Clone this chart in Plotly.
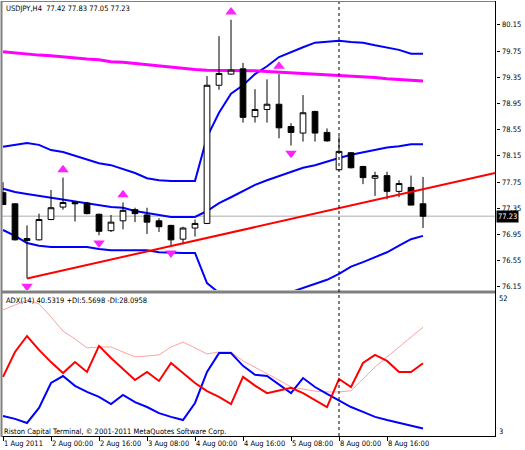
import plotly.graph_objects as go

# ---------------- data ----------------
bars = list(range(36))
open_ = [77.59, 77.42, 76.86, 76.87, 77.18, 77.37, 77.44, 77.43, 77.26, 77.01, 77.16, 77.33,
         77.25, 77.16, 77.09, 76.88, 77.05, 77.12, 79.23, 79.40, 79.48, 78.75, 78.86, 78.94,
         78.60, 78.50, 78.83, 78.51, 77.94, 78.20, 77.99, 77.81, 77.85, 77.61, 77.67, 77.42]
high = [77.75, 77.43, 77.09, 77.27, 77.63, 77.82, 77.45, 77.45, 77.27, 77.25, 77.44, 77.36,
        77.36, 77.20, 77.10, 77.07, 77.18, 79.37, 79.98, 80.23, 79.57, 79.17, 79.32, 79.40,
        78.65, 79.08, 78.84, 78.57, 78.45, 78.21, 78.00, 77.91, 77.91, 77.78, 77.85, 77.83]
low = [77.40, 76.86, 76.28, 76.86, 77.17, 77.33, 77.15, 77.26, 76.94, 76.99, 77.03, 77.14,
       76.96, 76.99, 76.79, 76.80, 76.92, 77.11, 79.16, 79.39, 78.66, 78.66, 78.66, 78.42,
       78.31, 78.37, 78.37, 78.37, 77.93, 77.96, 77.72, 77.54, 77.49, 77.52, 77.40, 77.05]
close = [77.41, 76.87, 76.89, 77.18, 77.36, 77.44, 77.42, 77.27, 77.00, 77.14, 77.32, 77.27,
         77.14, 77.07, 76.87, 77.05, 77.12, 79.23, 79.41, 79.46, 78.74, 78.86, 78.94, 78.58,
         78.51, 78.81, 78.50, 78.38, 78.22, 77.97, 77.82, 77.85, 77.61, 77.73, 77.40, 77.23]

bb_upper = [78.29, 78.32, 78.35, 78.32, 78.24, 78.21, 78.15, 78.09, 78.04, 78.01, 77.95, 77.89,
            77.81, 77.78, 77.77, 77.77, 77.77, 78.44, 78.81, 79.10, 79.23, 79.40, 79.52, 79.66,
            79.74, 79.81, 79.88, 79.89, 79.91, 79.89, 79.88, 79.84, 79.81, 79.77, 79.71, 79.71]
bb_middle = [77.65, 77.60, 77.57, 77.54, 77.52, 77.49, 77.46, 77.43, 77.40, 77.37, 77.36, 77.31,
             77.28, 77.25, 77.22, 77.22, 77.22, 77.31, 77.43, 77.52, 77.62, 77.71, 77.78, 77.84,
             77.91, 77.97, 78.01, 78.07, 78.12, 78.17, 78.21, 78.25, 78.28, 78.30, 78.33, 78.33]
bb_lower = [77.02, 76.93, 76.82, 76.78, 76.76, 76.76, 76.76, 76.76, 76.73, 76.71, 76.71, 76.71,
            76.71, 76.68, 76.67, 76.67, 76.67, 76.21, 76.06, 75.95, 76.00, 76.01, 76.03, 76.01,
            76.07, 76.13, 76.20, 76.26, 76.35, 76.46, 76.53, 76.61, 76.68, 76.78, 76.88, 76.93]
ma_magenta = [79.74, 79.72, 79.71, 79.69, 79.68, 79.66, 79.65, 79.63, 79.62, 79.59, 79.58, 79.56,
              79.55, 79.52, 79.51, 79.49, 79.47, 79.46, 79.46, 79.455, 79.455, 79.45, 79.44, 79.43,
              79.425, 79.42, 79.41, 79.39, 79.385, 79.37, 79.36, 79.35, 79.33, 79.32, 79.30, 79.295]

adx = [46.5, 48.2, 49.9, 48.6, 44.1, 39.2, 36.5, 33.4, 33.7, 33.7, 32.0, 30.3,
       30.6, 31.0, 33.7, 35.4, 33.4, 31.3, 32.0, 32.0, 28.9, 26.7, 24.7, 22.3,
       19.9, 19.2, 18.5, 18.2, 18.2, 18.6, 22.7, 26.8, 30.3, 33.7, 36.8, 40.53]
plus_di = [9.9, 8.9, 7.5, 12.7, 21.3, 23.7, 20.3, 18.2, 16.5, 14.0, 17.2, 14.7,
           13.0, 10.9, 9.6, 8.5, 14.4, 25.1, 31.6, 31.6, 27.2, 24.1, 23.7, 20.6,
           17.8, 23.0, 19.9, 17.5, 15.1, 13.0, 11.3, 9.6, 8.5, 7.5, 6.5, 5.57]
minus_di = [23.4, 32.0, 37.5, 32.7, 28.5, 24.7, 28.5, 25.1, 34.1, 29.9, 26.1, 22.3,
            25.1, 22.0, 28.2, 24.7, 21.3, 18.5, 16.5, 14.0, 23.4, 20.4, 17.8, 18.7,
            19.6, 17.8, 15.4, 13.0, 22.7, 19.9, 28.2, 31.0, 28.9, 25.1, 25.1, 28.10]

fractal_up = [5, 10, 19, 23]
fractal_down = [2, 8, 14, 24]
trend_x = [2, 41]
trend_price = [76.28, 77.89]
price_ticks = [80.15, 79.75, 79.35, 78.95, 78.55, 78.15, 77.75, 77.35, 76.95, 76.55, 76.15]
time_tick_bars = [0, 4, 8, 12, 16, 20, 24, 28, 32]
time_tick_labels = ["1 Aug 2011", "2 Aug 00:00", "2 Aug 16:00", "3 Aug 08:00", "4 Aug 00:00",
                    "4 Aug 16:00", "5 Aug 08:00", "8 Aug 00:00", "8 Aug 16:00"]
week_separator_bar = 28
adx_label = "ADX(14) 40.5319 +DI:5.5698 -DI:28.0958"
sub_scale = [52, 3]

# ---------------- layout helpers ----------------
W, H = 525, 450
def fx(p):
    return p / W
def fy(p):
    return 1 - p / H

FONT = "Liberation Sans Narrow, DejaVu Sans Condensed, Liberation Sans, Arial, sans-serif"
FS = 7.5
X_DOM = [fx(2), fx(495.5)]
Y_MAIN = [fy(290), fy(2)]
Y_SUB = [fy(436), fy(294)]
Y_RANGE = [76.104, 80.501]
X_RANGE = [-0.083, 41.04]
ARROW_GAP = 0.12
ARROW_COLOR = "#ff22ff"

fig = go.Figure()

# indicators (base layer)
for band in (bb_upper, bb_middle, bb_lower):
    fig.add_trace(go.Scatter(x=bars, y=band, mode="lines", line=dict(color="#0000ff", width=2),
                             xaxis="x", yaxis="y", hoverinfo="skip"))
fig.add_trace(go.Scatter(x=bars, y=ma_magenta, mode="lines", line=dict(color="#ff00ff", width=3),
                         xaxis="x", yaxis="y", hoverinfo="skip"))

# candles on overlay so they sit above indicator lines
fig.add_trace(go.Candlestick(
    x=bars, open=open_, high=high, low=low, close=close, xaxis="x", yaxis="y3",
    increasing=dict(line=dict(color="black", width=1), fillcolor="white"),
    decreasing=dict(line=dict(color="black", width=1), fillcolor="black"),
    whiskerwidth=0, hoverinfo="skip"))
fig.add_trace(go.Scatter(x=trend_x, y=trend_price, mode="lines", line=dict(color="#ff0000", width=2),
                         xaxis="x", yaxis="y3", hoverinfo="skip"))
fig.add_trace(go.Scatter(x=fractal_up, y=[high[i] + ARROW_GAP for i in fractal_up], mode="markers",
                         marker=dict(symbol="triangle-up", size=10, color=ARROW_COLOR,
                                     line=dict(width=0)),
                         xaxis="x", yaxis="y3", hoverinfo="skip"))
fig.add_trace(go.Scatter(x=fractal_down, y=[low[i] - ARROW_GAP for i in fractal_down], mode="markers",
                         marker=dict(symbol="triangle-down", size=10, color=ARROW_COLOR,
                                     line=dict(width=0)),
                         xaxis="x", yaxis="y3", hoverinfo="skip"))

# ADX sub window
fig.add_trace(go.Scatter(x=bars, y=adx, mode="lines", line=dict(color="#ffa0a0", width=1),
                         xaxis="x2", yaxis="y2", hoverinfo="skip"))
fig.add_trace(go.Scatter(x=bars, y=plus_di, mode="lines", line=dict(color="#0000ff", width=2),
                         xaxis="x2", yaxis="y2", hoverinfo="skip"))
fig.add_trace(go.Scatter(x=bars, y=minus_di, mode="lines", line=dict(color="#ff0000", width=2),
                         xaxis="x2", yaxis="y2", hoverinfo="skip"))

tickfont = dict(family=FONT, size=FS, color="black")
fig.update_layout(
    width=W, height=H, margin=dict(l=0, r=0, t=0, b=0),
    paper_bgcolor="white", plot_bgcolor="white", showlegend=False, hovermode=False,
    boxgap=0.32,
    font=dict(family=FONT, size=FS, color="black"),
    xaxis=dict(domain=X_DOM, range=X_RANGE, anchor="y", showticklabels=False, showgrid=False,
               zeroline=False, showline=False, ticks="", rangeslider=dict(visible=False)),
    xaxis2=dict(domain=X_DOM, matches="x", anchor="y2", showgrid=False, zeroline=False,
                showline=True, linecolor="black", linewidth=1, ticks="outside", ticklen=4,
                tickcolor="black", tickvals=time_tick_bars, ticktext=time_tick_labels,
                ticklabelposition="outside right", tickangle=0, tickfont=tickfont),
    yaxis=dict(domain=Y_MAIN, range=Y_RANGE, anchor="x", side="right", showgrid=False,
               zeroline=False, showline=False, ticks="outside", ticklen=3, tickcolor="black",
               tickvals=price_ticks, showticklabels=False),
    yaxis3=dict(overlaying="y", range=Y_RANGE, anchor="x", visible=False),
    yaxis2=dict(domain=Y_SUB, range=[sub_scale[1], sub_scale[0]], anchor="x2", side="right",
                showgrid=False, zeroline=False, showline=False, showticklabels=False, ticks=""),
)

shapes = [
    # bid line
    dict(type="line", xref="paper", yref="y", x0=X_DOM[0], x1=X_DOM[1], y0=close[-1], y1=close[-1],
         line=dict(color="#c8c8c8", width=1.5), layer="below"),
    # pane separator
    dict(type="rect", xref="paper", yref="paper", x0=X_DOM[0], x1=X_DOM[1], y0=fy(293.5), y1=fy(290.5),
         fillcolor="#808080", line=dict(width=0)),
    # frame
    dict(type="line", xref="paper", yref="paper", x0=fx(1.5), x1=fx(1.5), y0=fy(437), y1=fy(1),
         line=dict(color="#808080", width=2)),
    dict(type="line", xref="paper", yref="paper", x0=fx(1), x1=fx(495.5), y0=fy(1.5), y1=fy(1.5),
         line=dict(color="#808080", width=1)),
    dict(type="line", xref="paper", yref="paper", x0=fx(495.5), x1=fx(495.5), y0=fy(437), y1=fy(1),
         line=dict(color="black", width=1)),
    # week separator
    dict(type="line", xref="x", yref="paper", x0=week_separator_bar, x1=week_separator_bar,
         y0=fy(436), y1=fy(2), line=dict(color="black", width=1, dash="dot")),
]
fig.update_layout(shapes=shapes)

ann = [
    dict(text=f"USDJPY,H4  {open_[-1]:.2f} {high[-1]:.2f} {low[-1]:.2f} {close[-1]:.2f}",
         xref="paper", yref="paper", x=fx(4), y=fy(8), xanchor="left", yanchor="middle",
         showarrow=False, font=tickfont),
    dict(text=adx_label, xref="paper", yref="paper", x=fx(4), y=fy(300), xanchor="left",
         yanchor="middle", showarrow=False, font=tickfont),
    dict(text="Riston Capital Terminal, © 2001-2011 MetaQuotes Software Corp.", xref="paper",
         yref="paper", x=fx(2), y=fy(431), xanchor="left", yanchor="middle", showarrow=False,
         font=tickfont),
    dict(text=str(sub_scale[0]), xref="paper", yref="paper", x=fx(497), y=fy(298), xanchor="left",
         yanchor="middle", showarrow=False, font=tickfont),
    dict(text=str(sub_scale[1]), xref="paper", yref="paper", x=fx(497), y=fy(431), xanchor="left",
         yanchor="middle", showarrow=False, font=tickfont),
]
for p in price_ticks:
    ann.append(dict(text=f"{p:.2f}", xref="paper", yref="y", x=fx(500), y=p, xanchor="left",
                    yanchor="middle", showarrow=False, font=tickfont))
ann.append(dict(text=f"{close[-1]:.2f}", xref="paper", yref="y", x=fx(496), y=close[-1], xanchor="left",
                yanchor="middle", showarrow=False, bgcolor="black", borderpad=1,
                font=dict(family=FONT, size=FS, color="white")))
fig.update_layout(annotations=ann)

fig.write_html("out.html", config={"displayModeBar": False},
               post_script="document.body.style.margin='0px';")
